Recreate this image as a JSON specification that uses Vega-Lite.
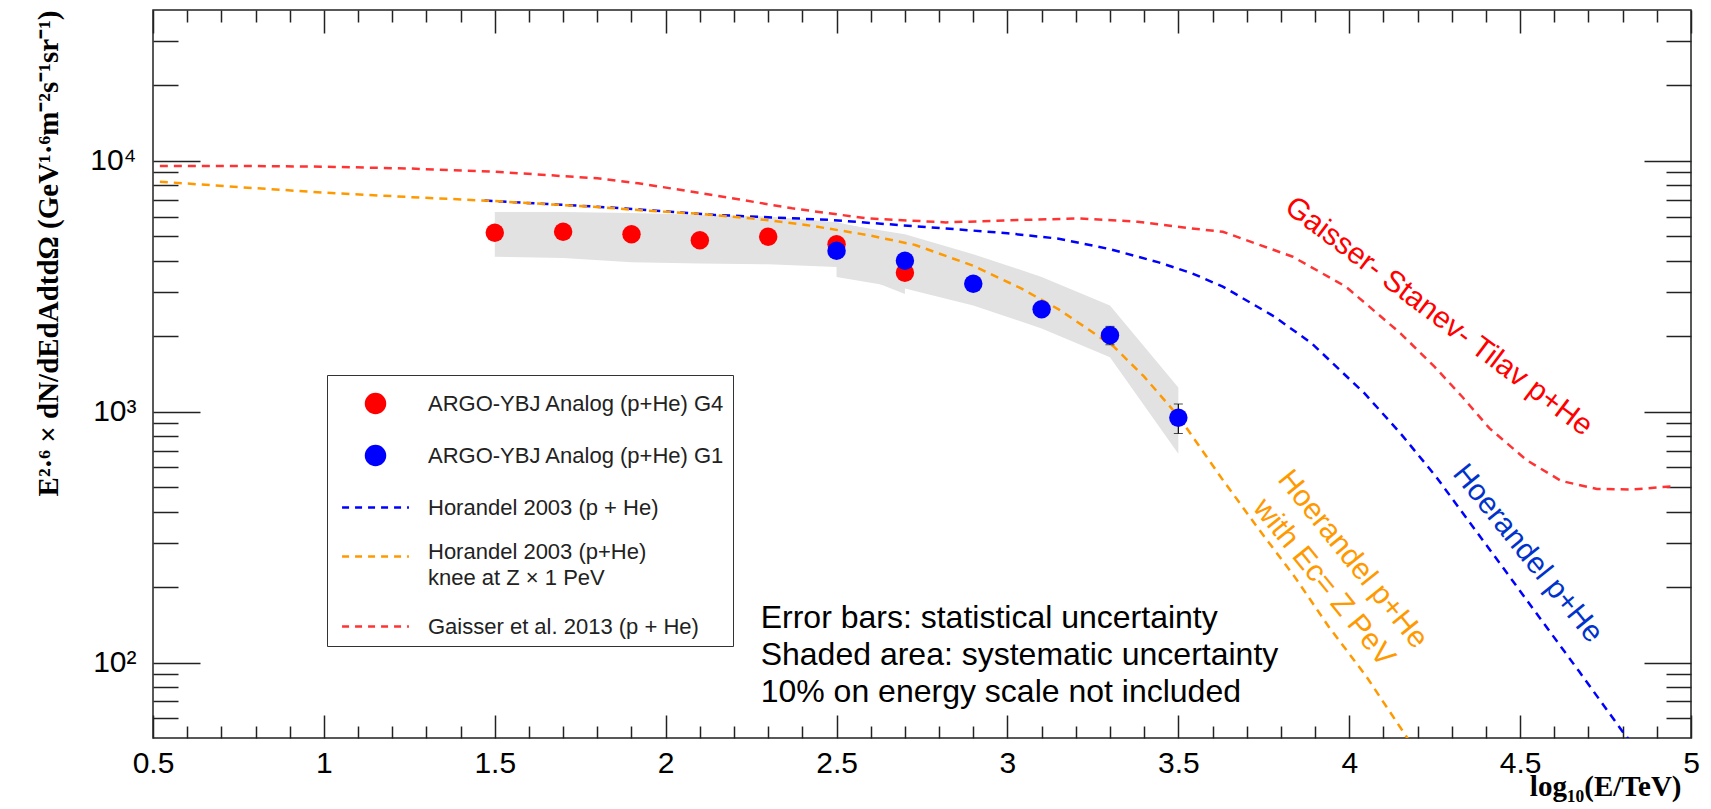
{
  "$schema": "https://vega.github.io/schema/vega-lite/v6.json",
  "width": 1538,
  "height": 728,
  "autosize": {"type": "none"},
  "padding": {"left": 153, "top": 10, "right": 20, "bottom": 71},
  "background": "white",
  "config": {
    "view": {"stroke": "#222", "strokeWidth": 1.5},
    "axis": {"grid": false, "domain": false, "labelFont": "Liberation Sans", "titleFont": "Liberation Serif", "tickColor": "#222", "tickWidth": 1.5, "labelColor": "#000", "titleColor": "#000"}
  },
  "datasets": {
    "band": [
      {"grp": "G4", "x": 1.5, "hi": 6265, "lo": 4150},
      {"grp": "G4", "x": 1.7, "hi": 6265, "lo": 4100},
      {"grp": "G4", "x": 1.9, "hi": 6200, "lo": 3950},
      {"grp": "G4", "x": 2.1, "hi": 6100, "lo": 3900},
      {"grp": "G4", "x": 2.3, "hi": 6000, "lo": 3870},
      {"grp": "G4", "x": 2.5, "hi": 5700, "lo": 3780},
      {"grp": "G4", "x": 2.7, "hi": 5000, "lo": 2950},
      {"grp": "G1", "x": 2.5, "hi": 5650, "lo": 3450},
      {"grp": "G1", "x": 2.7, "hi": 5100, "lo": 3100},
      {"grp": "G1", "x": 2.9, "hi": 4250, "lo": 2650},
      {"grp": "G1", "x": 3.1, "hi": 3450, "lo": 2150},
      {"grp": "G1", "x": 3.3, "hi": 2650, "lo": 1650},
      {"grp": "G1", "x": 3.5, "hi": 1250, "lo": 680}
    ],
    "curves": [
      {"series": "GST", "x": 0.52, "y": 9550},
      {"series": "GST", "x": 0.75, "y": 9560},
      {"series": "GST", "x": 1.0, "y": 9490},
      {"series": "GST", "x": 1.25, "y": 9330},
      {"series": "GST", "x": 1.5, "y": 9060},
      {"series": "GST", "x": 1.8, "y": 8530},
      {"series": "GST", "x": 1.92, "y": 8150},
      {"series": "GST", "x": 2.14, "y": 7310},
      {"series": "GST", "x": 2.37, "y": 6475},
      {"series": "GST", "x": 2.59, "y": 5900},
      {"series": "GST", "x": 2.82, "y": 5690},
      {"series": "GST", "x": 3.04, "y": 5820},
      {"series": "GST", "x": 3.21, "y": 5900},
      {"series": "GST", "x": 3.38, "y": 5725},
      {"series": "GST", "x": 3.54, "y": 5380},
      {"series": "GST", "x": 3.63, "y": 5220},
      {"series": "GST", "x": 3.835, "y": 4150},
      {"series": "GST", "x": 3.99, "y": 3155},
      {"series": "GST", "x": 4.15, "y": 2055},
      {"series": "GST", "x": 4.25, "y": 1510},
      {"series": "GST", "x": 4.33, "y": 1150},
      {"series": "GST", "x": 4.41, "y": 860},
      {"series": "GST", "x": 4.52, "y": 640},
      {"series": "GST", "x": 4.62, "y": 530},
      {"series": "GST", "x": 4.725, "y": 492},
      {"series": "GST", "x": 4.83, "y": 490},
      {"series": "GST", "x": 4.95, "y": 505},
      {"series": "H03", "x": 1.47, "y": 6950},
      {"series": "H03", "x": 1.83, "y": 6535},
      {"series": "H03", "x": 2.14, "y": 6100},
      {"series": "H03", "x": 2.48, "y": 5820},
      {"series": "H03", "x": 2.82, "y": 5380},
      {"series": "H03", "x": 3.0, "y": 5150},
      {"series": "H03", "x": 3.15, "y": 4900},
      {"series": "H03", "x": 3.3, "y": 4450},
      {"series": "H03", "x": 3.44, "y": 3950},
      {"series": "H03", "x": 3.54, "y": 3565},
      {"series": "H03", "x": 3.63, "y": 3155},
      {"series": "H03", "x": 3.78, "y": 2400},
      {"series": "H03", "x": 3.89, "y": 1875},
      {"series": "H03", "x": 4.045, "y": 1183},
      {"series": "H03", "x": 4.15, "y": 820},
      {"series": "H03", "x": 4.254, "y": 551},
      {"series": "H03", "x": 4.359, "y": 352},
      {"series": "H03", "x": 4.464, "y": 225},
      {"series": "H03", "x": 4.568, "y": 144},
      {"series": "H03", "x": 4.673, "y": 92},
      {"series": "H03", "x": 4.8, "y": 53},
      {"series": "H03", "x": 4.82, "y": 49},
      {"series": "H03knee", "x": 0.52, "y": 8270},
      {"series": "H03knee", "x": 0.75, "y": 7870},
      {"series": "H03knee", "x": 1.0, "y": 7480},
      {"series": "H03knee", "x": 1.25, "y": 7180},
      {"series": "H03knee", "x": 1.5, "y": 6920},
      {"series": "H03knee", "x": 1.81, "y": 6535},
      {"series": "H03knee", "x": 1.92, "y": 6370},
      {"series": "H03knee", "x": 2.1, "y": 6150},
      {"series": "H03knee", "x": 2.255, "y": 5900},
      {"series": "H03knee", "x": 2.41, "y": 5560},
      {"series": "H03knee", "x": 2.59, "y": 5070},
      {"series": "H03knee", "x": 2.73, "y": 4625},
      {"series": "H03knee", "x": 2.9, "y": 3820},
      {"series": "H03knee", "x": 3.04, "y": 3105},
      {"series": "H03knee", "x": 3.15, "y": 2560},
      {"series": "H03knee", "x": 3.31, "y": 1824},
      {"series": "H03knee", "x": 3.4, "y": 1380},
      {"series": "H03knee", "x": 3.5, "y": 960},
      {"series": "H03knee", "x": 3.63, "y": 535},
      {"series": "H03knee", "x": 3.73, "y": 348},
      {"series": "H03knee", "x": 3.84, "y": 220},
      {"series": "H03knee", "x": 3.94, "y": 139},
      {"series": "H03knee", "x": 4.05, "y": 88},
      {"series": "H03knee", "x": 4.17, "y": 50},
      {"series": "H03knee", "x": 4.2, "y": 45}
    ],
    "pts": [
      {"series": "G4", "x": 1.5, "y": 5176, "lo": 5040, "hi": 5310},
      {"series": "G4", "x": 1.7, "y": 5224, "lo": 5090, "hi": 5360},
      {"series": "G4", "x": 1.9, "y": 5100, "lo": 4970, "hi": 5230},
      {"series": "G4", "x": 2.1, "y": 4827, "lo": 4700, "hi": 4950},
      {"series": "G4", "x": 2.3, "y": 4990, "lo": 4860, "hi": 5120},
      {"series": "G4", "x": 2.5, "y": 4652, "lo": 4520, "hi": 4790},
      {"series": "G4", "x": 2.7, "y": 3586, "lo": 3470, "hi": 3700},
      {"series": "G1", "x": 2.5, "y": 4387, "lo": 4250, "hi": 4520},
      {"series": "G1", "x": 2.7, "y": 4002, "lo": 3870, "hi": 4130},
      {"series": "G1", "x": 2.9, "y": 3240, "lo": 3120, "hi": 3360},
      {"series": "G1", "x": 3.1, "y": 2561, "lo": 2440, "hi": 2680},
      {"series": "G1", "x": 3.3, "y": 2017, "lo": 1850, "hi": 2190},
      {"series": "G1", "x": 3.5, "y": 946, "lo": 819, "hi": 1073}
    ],
    "t_gst": [{"x": 4.262, "y": 2399, "text": "Gaisser- Stanev- Tilav p+He"}],
    "t_h03": [{"x": 4.522, "y": 272, "text": "Hoerandel p+He"}],
    "t_knee": [{"x": 4.01, "y": 258, "text": "Hoerandel p+He\nwith Ec= Z PeV"}],
    "t_note": [{"x": 2.278, "y": 137.5, "text": "Error bars: statistical uncertainty\nShaded area: systematic uncertainty\n10% on energy scale not included"}]
  },
  "resolve": {"axis": {"x": "independent", "y": "independent"}},
  "layer": [
    {
      "data": {"name": "band"},
      "mark": {"type": "area", "fill": "#e2e2e2", "opacity": 1},
      "encoding": {
        "x": {"field": "x", "type": "quantitative", "scale": {"domain": [0.5, 5], "nice": false, "zero": false},
          "axis": {"orient": "bottom", "values": [0.5, 1, 1.5, 2, 2.5, 3, 3.5, 4, 4.5, 5], "ticks": false, "labelPadding": 10, "labelFontSize": 30, "labelFlush": false, "labelOverlap": false, "labelBound": false, "labelExpr": "'' + datum.value",
            "title": "log₁₀(E/TeV)", "titleFont": "Liberation Serif", "titleFontWeight": "bold", "titleFontSize": 29, "titleAlign": "right", "titleBaseline": "alphabetic", "titleX": 1528, "titleY": 57}},
        "y": {"field": "hi", "type": "quantitative", "scale": {"type": "log", "domain": [50, 40000], "nice": false},
          "axis": {"orient": "left", "values": [100, 1000, 10000], "ticks": false, "labelPadding": 17, "labelFontSize": 30, "labelExpr": "datum.value == 100 ? '10²' : datum.value == 1000 ? '10³' : '10⁴'",
            "title": "E²·⁶ × dN/dEdAdtdΩ (GeV¹·⁶m⁻²s⁻¹sr⁻¹)", "titleFont": "Liberation Serif", "titleFontWeight": "bold", "titleFontSize": 29, "titleAngle": -90, "titleAlign": "right", "titleBaseline": "middle", "titleX": -105, "titleY": 0}},
        "y2": {"field": "lo"},
        "detail": {"field": "grp"}
      }
    },
    {
      "data": {"name": "curves"},
      "mark": {"type": "line", "strokeDash": [8, 6], "strokeWidth": 2.5, "clip": true},
      "encoding": {
        "x": {"field": "x", "type": "quantitative", "scale": {"domain": [0.5, 5], "nice": false, "zero": false},
          "axis": {"orient": "bottom", "values": [0.5, 1, 1.5, 2, 2.5, 3, 3.5, 4, 4.5, 5], "labels": false, "tickSize": -23, "title": null}},
        "y": {"field": "y", "type": "quantitative", "scale": {"type": "log", "domain": [50, 40000], "nice": false},
          "axis": {"orient": "left", "values": [100, 1000, 10000], "labels": false, "tickSize": -47, "title": null}},
        "color": {"field": "series", "type": "nominal",
          "scale": {"domain": ["G4", "G1", "H03", "H03knee", "GST"], "range": ["#ff0000", "#0000ff", "#0000ff", "#ff9900", "#ff3333"]},
          "legend": {
            "title": null, "orient": "none", "legendX": 174, "legendY": 365,
            "symbolSize": 1444, "symbolStrokeWidth": 2.5, "symbolOffset": 20, "labelOffset": 32,
            "padding": 8, "rowPadding": 17, "strokeColor": "#333", "fillColor": "white",
            "labelFont": "Liberation Sans", "labelFontSize": 22, "labelColor": "#222", "labelLimit": 600,
            "labelExpr": "datum.value == 'G4' ? 'ARGO-YBJ Analog (p+He) G4' : datum.value == 'G1' ? 'ARGO-YBJ Analog (p+He) G1' : datum.value == 'H03' ? 'Horandel 2003 (p + He)' : datum.value == 'H03knee' ? ['\u00a0Horandel 2003 (p+He)', 'knee at Z × 1 PeV'] : 'Gaisser et al. 2013 (p + He)'",
            "encode": {
              "symbols": {"update": {
                "shape": {"signal": "datum.value == 'G4' || datum.value == 'G1' ? 'M-0.5,0A0.5,0.5,0,1,0,0.5,0A0.5,0.5,0,1,0,-0.5,0Z' : 'M-1.76,0H1.76'"},
                "fill": {"signal": "datum.value == 'G4' ? '#ff0000' : datum.value == 'G1' ? '#0000ff' : 'transparent'"},
                "stroke": {"signal": "datum.value == 'H03' ? '#0000ff' : datum.value == 'H03knee' ? '#ff9900' : datum.value == 'GST' ? '#ff3333' : 'transparent'"},
                "strokeDash": {"signal": "datum.value == 'G4' || datum.value == 'G1' ? [] : [7, 6]"},
                "strokeWidth": {"value": 2.5},
                "opacity": {"value": 1}
              }},
              "labels": {"update": {"lineHeight": {"value": 26}, "dy": {"signal": "datum.value == 'H03knee' ? -5 : 0"}}}
            }
          }
        }
      }
    },
    {
      "data": {"name": "pts"},
      "mark": {"type": "errorbar", "ticks": {"size": 9, "color": "#000"}, "rule": {"color": "#000", "strokeWidth": 1.2}},
      "encoding": {
        "x": {"field": "x", "type": "quantitative", "scale": {"domain": [0.5, 5], "nice": false, "zero": false}, "axis": null},
        "y": {"field": "lo", "type": "quantitative", "scale": {"type": "log", "domain": [50, 40000], "nice": false}, "axis": null},
        "y2": {"field": "hi"}
      }
    },
    {
      "data": {"name": "pts"},
      "mark": {"type": "circle", "size": 340, "opacity": 1},
      "encoding": {
        "x": {"field": "x", "type": "quantitative", "scale": {"domain": [0.5, 5], "nice": false, "zero": false},
          "axis": {"orient": "bottom", "values": [0.6, 0.7, 0.8, 0.9, 1.1, 1.2, 1.3, 1.4, 1.6, 1.7, 1.8, 1.9, 2.1, 2.2, 2.3, 2.4, 2.6, 2.7, 2.8, 2.9, 3.1, 3.2, 3.3, 3.4, 3.6, 3.7, 3.8, 3.9, 4.1, 4.2, 4.3, 4.4, 4.6, 4.7, 4.8, 4.9], "labels": false, "tickSize": -12, "title": null}},
        "y": {"field": "y", "type": "quantitative", "scale": {"type": "log", "domain": [50, 40000], "nice": false},
          "axis": {"orient": "left", "values": [60, 70, 80, 90, 200, 300, 400, 500, 600, 700, 800, 900, 2000, 3000, 4000, 5000, 6000, 7000, 8000, 9000, 20000, 30000], "labels": false, "tickSize": -25, "title": null}},
        "color": {"field": "series", "type": "nominal",
          "scale": {"domain": ["G4", "G1", "H03", "H03knee", "GST"], "range": ["#ff0000", "#0000ff", "#0000ff", "#ff9900", "#ff3333"]}}
      }
    },
    {
      "data": {"name": "t_gst"},
      "mark": {"type": "text", "angle": 37, "color": "#ff0000", "font": "Liberation Sans", "fontSize": 30, "align": "center", "baseline": "middle"},
      "encoding": {
        "x": {"field": "x", "type": "quantitative", "scale": {"domain": [0.5, 5], "nice": false, "zero": false},
          "axis": {"orient": "top", "values": [0.5, 1, 1.5, 2, 2.5, 3, 3.5, 4, 4.5, 5], "labels": false, "tickSize": -23, "title": null}},
        "y": {"field": "y", "type": "quantitative", "scale": {"type": "log", "domain": [50, 40000], "nice": false},
          "axis": {"orient": "right", "values": [100, 1000, 10000], "labels": false, "tickSize": -47, "title": null}},
        "text": {"field": "text"}
      }
    },
    {
      "data": {"name": "t_h03"},
      "mark": {"type": "text", "angle": 51, "color": "#0033cc", "font": "Liberation Sans", "fontSize": 30, "align": "center", "baseline": "middle"},
      "encoding": {
        "x": {"field": "x", "type": "quantitative", "scale": {"domain": [0.5, 5], "nice": false, "zero": false},
          "axis": {"orient": "top", "values": [0.6, 0.7, 0.8, 0.9, 1.1, 1.2, 1.3, 1.4, 1.6, 1.7, 1.8, 1.9, 2.1, 2.2, 2.3, 2.4, 2.6, 2.7, 2.8, 2.9, 3.1, 3.2, 3.3, 3.4, 3.6, 3.7, 3.8, 3.9, 4.1, 4.2, 4.3, 4.4, 4.6, 4.7, 4.8, 4.9], "labels": false, "tickSize": -12, "title": null}},
        "y": {"field": "y", "type": "quantitative", "scale": {"type": "log", "domain": [50, 40000], "nice": false},
          "axis": {"orient": "right", "values": [60, 70, 80, 90, 200, 300, 400, 500, 600, 700, 800, 900, 2000, 3000, 4000, 5000, 6000, 7000, 8000, 9000, 20000, 30000], "labels": false, "tickSize": -25, "title": null}},
        "text": {"field": "text"}
      }
    },
    {
      "data": {"name": "t_knee"},
      "mark": {"type": "text", "angle": 51, "color": "#ff9900", "font": "Liberation Sans", "fontSize": 30, "align": "center", "baseline": "middle", "lineBreak": "\n", "lineHeight": 37},
      "encoding": {
        "x": {"field": "x", "type": "quantitative", "scale": {"domain": [0.5, 5], "nice": false, "zero": false}, "axis": null},
        "y": {"field": "y", "type": "quantitative", "scale": {"type": "log", "domain": [50, 40000], "nice": false}, "axis": null},
        "text": {"field": "text"}
      }
    },
    {
      "data": {"name": "t_note"},
      "mark": {"type": "text", "color": "#000", "font": "Liberation Sans", "fontSize": 32, "align": "left", "baseline": "alphabetic", "lineBreak": "\n", "lineHeight": 37},
      "encoding": {
        "x": {"field": "x", "type": "quantitative", "scale": {"domain": [0.5, 5], "nice": false, "zero": false}, "axis": null},
        "y": {"field": "y", "type": "quantitative", "scale": {"type": "log", "domain": [50, 40000], "nice": false}, "axis": null},
        "text": {"field": "text"}
      }
    }
  ]
}
